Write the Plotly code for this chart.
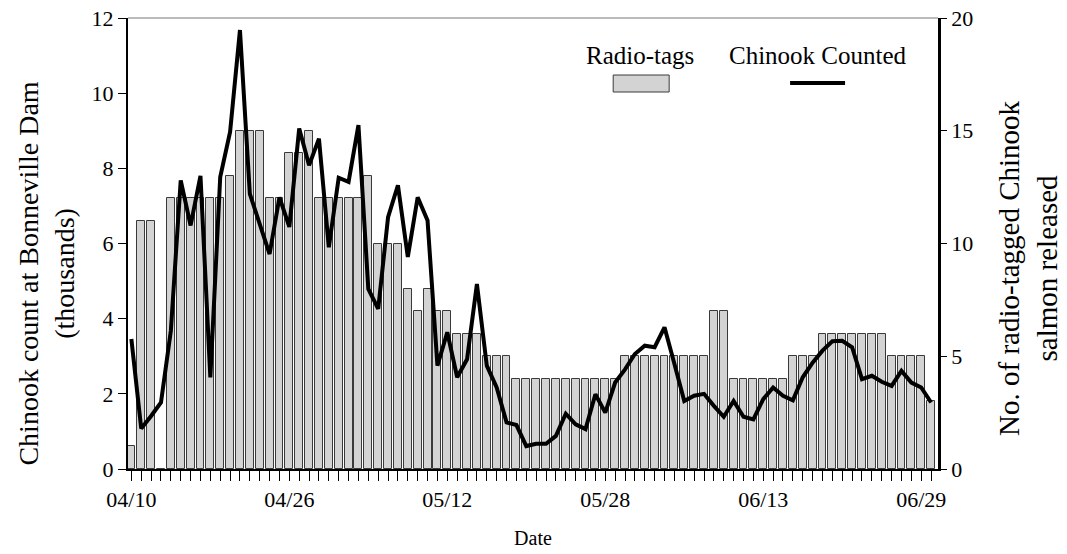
import pandas as pd
import plotly.graph_objects as go

# Daily observations, 04/10 through 06/30
start_date = "2000-04-10"
n_days = 82
dates = pd.date_range(start_date, periods=n_days, freq="D")

# Radio-tagged Chinook released per day (right axis)
radio_tags = [
    1, 11, 11, 0, 12, 12, 12, 12, 12, 12, 13, 15, 15, 15, 12, 12, 14, 14, 15, 12,
    12, 12, 12, 12, 13, 10, 10, 10, 8, 7, 8, 7, 7, 6, 6, 6, 5, 5, 5, 4,
    4, 4, 4, 4, 4, 4, 4, 4, 4, 4, 5, 5, 5, 5, 5, 5, 5, 5, 5, 7,
    7, 4, 4, 4, 4, 4, 4, 5, 5, 5, 6, 6, 6, 6, 6, 6, 6, 5, 5, 5,
    5, 3,
]

# Chinook counted at Bonneville Dam, thousands (left axis)
chinook_counted = [
    3.46, 1.08, 1.41, 1.77, 3.68, 7.68, 6.48, 7.80, 2.44, 7.77,
    8.97, 11.68, 7.32, 6.52, 5.72, 7.23, 6.44, 9.06, 8.08, 8.79,
    5.90, 7.75, 7.64, 9.15, 4.79, 4.26, 6.70, 7.55, 5.64, 7.23,
    6.61, 2.75, 3.64, 2.44, 2.92, 4.92, 2.75, 2.17, 1.24, 1.17,
    0.61, 0.67, 0.67, 0.88, 1.47, 1.19, 1.06, 1.99, 1.50, 2.30,
    2.65, 3.06, 3.28, 3.24, 3.77, 2.80, 1.81, 1.95, 2.00, 1.68,
    1.39, 1.81, 1.39, 1.32, 1.86, 2.17, 1.95, 1.83, 2.44, 2.83,
    3.15, 3.40, 3.41, 3.24, 2.39, 2.48, 2.32, 2.21, 2.61, 2.30,
    2.17, 1.77,
]

tick_dates = ["2000-04-10", "2000-04-26", "2000-05-12",
              "2000-05-28", "2000-06-13", "2000-06-29"]

W, H = 1067, 554
L, R, T, B = 127.5, 129, 18, 85
plot_w = W - L - R
plot_h = H - T - B
FONT = "Liberation Serif, Times New Roman, serif"
DAY_MS = 86400000


def px(x):
    return (x - L) / plot_w


def py(y):
    return (H - B - y) / plot_h


t0 = pd.Timestamp(start_date)
x_range = [t0 - pd.Timedelta(days=0.34), t0 + pd.Timedelta(days=81.7)]

fig = go.Figure()

fig.add_trace(go.Bar(
    x=dates, y=radio_tags, yaxis="y",
    width=0.8 * DAY_MS,
    marker=dict(color="#d3d3d3", line=dict(color="#3a3a3a", width=1)),
    name="Radio-tags", showlegend=False,
))

fig.add_trace(go.Scatter(
    x=dates, y=chinook_counted, yaxis="y2",
    mode="lines", line=dict(color="black", width=4),
    name="Chinook Counted", showlegend=False,
))

fig.update_layout(
    width=W, height=H,
    margin=dict(l=L, r=R, t=T, b=B, autoexpand=False),
    paper_bgcolor="white", plot_bgcolor="white",
    font=dict(family=FONT, color="black", size=22),
    bargap=0,
    xaxis=dict(
        type="date", range=x_range,
        tickvals=tick_dates, tickformat="%m/%d",
        ticks="outside", ticklen=10, tickcolor="black", tickwidth=1,
        minor=dict(dtick=DAY_MS, tick0=start_date, ticks="outside",
                   ticklen=10, tickcolor="black", tickwidth=1),
        showline=True, linecolor="black", linewidth=1.5,
        showgrid=False, zeroline=False,
        tickfont=dict(size=22),
        title=dict(text="Date", font=dict(size=20), standoff=20),
    ),
    yaxis=dict(
        side="right", range=[0, 20], dtick=5,
        ticks="outside", ticklen=6, tickcolor="black",
        showline=True, linecolor="black", linewidth=2.5,
        showgrid=False, zeroline=False,
        tickfont=dict(size=22),
    ),
    yaxis2=dict(
        side="left", overlaying="y", range=[0, 12], dtick=2,
        ticks="outside", ticklen=8, tickcolor="black",
        showline=True, linecolor="black", linewidth=2,
        showgrid=False, zeroline=False,
        tickfont=dict(size=22),
    ),
)

# Axis titles
fig.add_annotation(xref="paper", yref="paper", x=px(45), y=py(274),
                   text="Chinook count at Bonneville Dam<br>(thousands)",
                   textangle=-90, showarrow=False, font=dict(size=28),
                   xanchor="center", yanchor="middle")
fig.add_annotation(xref="paper", yref="paper", x=px(1028), y=py(268),
                   text="No. of radio-tagged Chinook<br>salmon released",
                   textangle=-90, showarrow=False, font=dict(size=29),
                   xanchor="center", yanchor="middle")

# Top frame line
fig.add_shape(type="line", xref="paper", yref="paper",
              x0=0, x1=1, y0=1, y1=1,
              line=dict(color="#777777", width=1))

# Legend: labels above their swatches
fig.add_annotation(xref="paper", yref="paper", x=px(640), y=py(55),
                   text="Radio-tags", showarrow=False,
                   font=dict(size=25), xanchor="center", yanchor="middle")
fig.add_shape(type="rect", xref="paper", yref="paper",
              x0=px(613), x1=px(669), y0=py(92), y1=py(75),
              fillcolor="#d3d3d3", line=dict(color="#3a3a3a", width=1))
fig.add_annotation(xref="paper", yref="paper", x=px(818), y=py(55),
                   text="Chinook Counted", showarrow=False,
                   font=dict(size=25), xanchor="center", yanchor="middle")
fig.add_shape(type="line", xref="paper", yref="paper",
              x0=px(790), x1=px(845), y0=py(83), y1=py(83),
              line=dict(color="black", width=4))

fig.write_html("out.html")
